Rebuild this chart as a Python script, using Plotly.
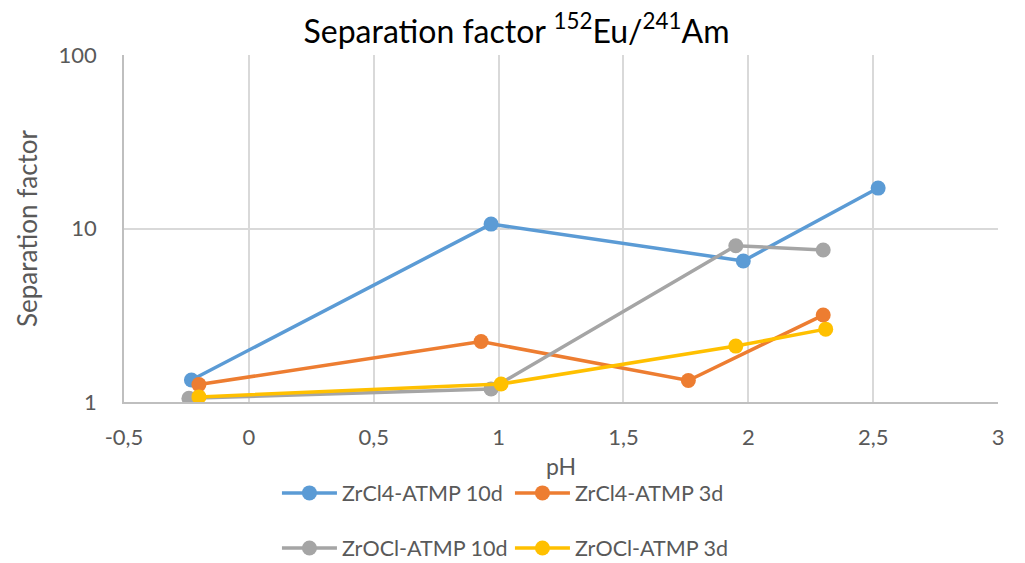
import plotly.graph_objects as go

series_names = ["ZrCl4-ATMP 10d", "ZrCl4-ATMP 3d", "ZrOCl-ATMP 10d", "ZrOCl-ATMP 3d"]
colors = ["#5B9BD5", "#ED7D31", "#A5A5A5", "#FFC000"]

x_zrcl4_10d = [-0.23, 0.97, 1.98, 2.52]
y_zrcl4_10d = [1.34, 10.6, 6.5, 17.1]

x_zrcl4_3d = [-0.20, 0.93, 1.76, 2.30]
y_zrcl4_3d = [1.26, 2.23, 1.33, 3.17]

x_zrocl_10d = [-0.24, 0.97, 1.95, 2.30]
y_zrocl_10d = [1.05, 1.19, 7.96, 7.52]

x_zrocl_3d = [-0.20, 1.01, 1.95, 2.31]
y_zrocl_3d = [1.07, 1.27, 2.10, 2.63]

x_ticks = [-0.5, 0, 0.5, 1, 1.5, 2, 2.5, 3]
x_tick_labels = ["-0,5", "0", "0,5", "1", "1,5", "2", "2,5", "3"]
y_ticks = [1, 10, 100]
y_tick_labels = ["1", "10", "100"]

xs = [x_zrcl4_10d, x_zrcl4_3d, x_zrocl_10d, x_zrocl_3d]
ys = [y_zrcl4_10d, y_zrcl4_3d, y_zrocl_10d, y_zrocl_3d]
legends = ["legend", "legend", "legend2", "legend2"]

FONT = "Lato"
GRAY = "#595959"

fig = go.Figure()
for name, c, x, y, lg in zip(series_names, colors, xs, ys, legends):
    fig.add_trace(go.Scatter(
        x=x, y=y, name=name, mode="lines+markers",
        line=dict(color=c, width=3.5),
        marker=dict(color=c, size=15),
        legend=lg,
    ))

leg_common = dict(
    orientation="h", xanchor="left", yanchor="middle",
    font=dict(size=21.5, color=GRAY), entrywidth=163, entrywidthmode="pixels",
    itemwidth=55, bgcolor="rgba(0,0,0,0)",
)

fig.update_layout(
    width=1017, height=555,
    paper_bgcolor="white", plot_bgcolor="white",
    separators=", ",
    font=dict(family=FONT, color=GRAY, size=21),
    margin=dict(l=116, r=27, t=47, b=161, autoexpand=False),
    title=dict(
        text="Separation factor <sup>152</sup>Eu/<sup>241</sup>Am",
        x=0.5, xanchor="center", y=0.958, yanchor="middle",
        font=dict(family=FONT, size=32, color="#000000"),
    ),
    xaxis=dict(
        range=[-0.5, 3], tickvals=x_ticks, ticktext=x_tick_labels,
        showgrid=True, gridcolor="#D9D9D9", gridwidth=1.5,
        showline=True, linecolor="#BFBFBF", linewidth=1.5,
        zeroline=False, ticks="", ticklabelstandoff=15,
        tickfont=dict(size=22, color=GRAY),
        title=dict(text="pH", font=dict(size=23, color=GRAY), standoff=10),
    ),
    yaxis=dict(
        type="log", range=[0, 2], tickvals=y_ticks, ticktext=y_tick_labels,
        showgrid=True, gridcolor="#D9D9D9", gridwidth=1.5,
        showline=True, linecolor="#BFBFBF", linewidth=1.5,
        zeroline=False, ticks="", ticklabelstandoff=21,
        tickfont=dict(size=22, color=GRAY),
        title=dict(text="Separation factor", font=dict(size=26, color=GRAY), standoff=13),
    ),
    legend=dict(x=0.175, y=-0.262, **leg_common),
    legend2=dict(x=0.175, y=-0.421, **leg_common),
)

fig.write_html("out.html")
